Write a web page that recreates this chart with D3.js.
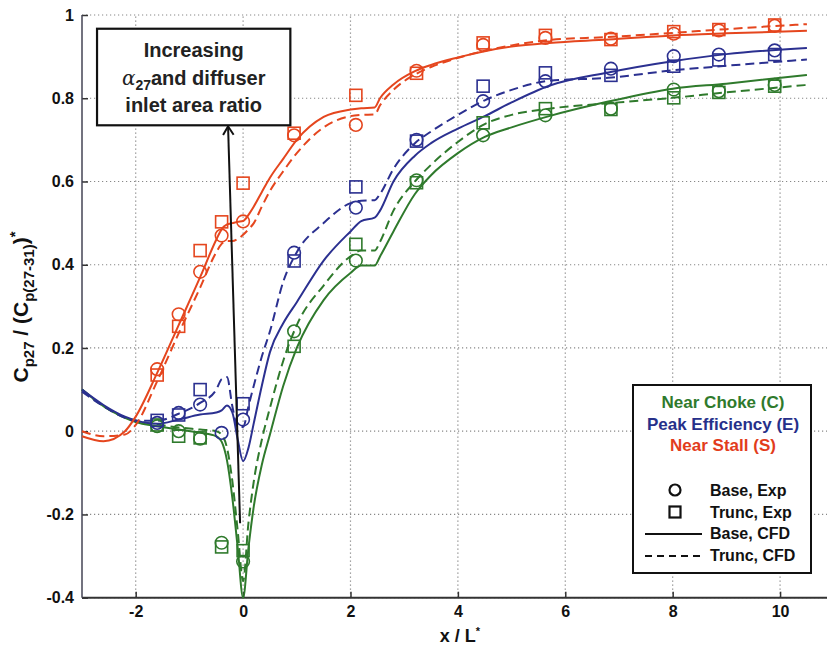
<!DOCTYPE html>
<html>
<head>
<meta charset="utf-8">
<script src="https://cdn.jsdelivr.net/npm/d3@7"></script>
<style>
body { margin: 0; background: #fff; }
text { font-family: "Liberation Sans", Arial, sans-serif; font-weight: bold; }
</style>
</head>
<body>
<svg id="chart" width="827" height="651"></svg>
<script>
// axis ticks
var xTicks = [-2, 0, 2, 4, 6, 8, 10];
var yTicks = [-0.4, -0.2, 0, 0.2, 0.4, 0.6, 0.8, 1];

// experimental stations (x / L*)
var expX = [-1.6, -1.2, -0.8, -0.4, 0, 0.95, 2.1, 3.23, 4.47, 5.63, 6.85, 8.02, 8.86, 9.9];
// Near Stall (S)
var stallBaseExp  = [0.149, 0.281, 0.383, 0.47, 0.504, 0.711, 0.736, 0.866, 0.928, 0.945, 0.943, 0.955, 0.963, 0.974];
var stallTruncExp = [0.135, 0.252, 0.434, 0.503, 0.596, 0.716, 0.807, 0.860, 0.933, 0.951, 0.941, 0.960, 0.965, 0.976];
// Peak Efficiency (E)
var peakBaseExp  = [0.02, 0.044, 0.064, -0.004, 0.028, 0.429, 0.537, 0.70, 0.793, 0.841, 0.871, 0.901, 0.905, 0.915];
var peakTruncExp = [0.026, 0.039, 0.10, null, 0.066, 0.409, 0.587, 0.697, 0.829, 0.861, 0.855, 0.877, 0.892, 0.905];
// Near Choke (C)
var chokeBaseExp  = [0.012, 0.0, -0.018, -0.268, -0.313, 0.240, 0.410, 0.603, 0.711, 0.759, 0.775, 0.821, 0.817, 0.832];
var chokeTruncExp = [0.015, -0.012, -0.016, -0.278, -0.287, 0.204, 0.449, 0.597, 0.741, 0.775, 0.773, 0.801, 0.814, 0.829];

// CFD curves sampled at these stations
var cfdX = [-3, -2.6, -2.2, -2, -1.6, -1.2, -0.8, -0.5, -0.4, -0.3, -0.2, -0.1, 0, 0.1, 0.2, 0.35, 0.5, 0.75, 1, 1.5, 2, 2.2, 2.45, 2.55, 2.8, 3.2, 3.5, 4, 4.5, 5, 5.7, 6.8, 8, 9, 10.5];
var stallBaseCfd  = [-0.012, -0.024, 0.0, 0.035, 0.14, 0.255, 0.37, 0.46, 0.485, 0.497, 0.50, 0.503, 0.505, 0.52, 0.54, 0.575, 0.609, 0.655, 0.70, 0.755, 0.773, 0.776, 0.778, 0.80, 0.833, 0.865, 0.88, 0.898, 0.913, 0.924, 0.933, 0.941, 0.951, 0.956, 0.962];
var stallTruncCfd = [0.0, -0.012, -0.008, 0.015, 0.12, 0.235, 0.345, 0.43, 0.45, 0.457, 0.457, 0.462, 0.472, 0.485, 0.50, 0.54, 0.577, 0.625, 0.668, 0.73, 0.757, 0.76, 0.761, 0.783, 0.82, 0.857, 0.875, 0.897, 0.914, 0.927, 0.94, 0.947, 0.957, 0.966, 0.978];
var peakBaseCfd   = [0.10, 0.063, 0.035, 0.026, 0.018, 0.028, 0.04, 0.045, 0.05, 0.062, 0.045, -0.02, -0.072, -0.04, 0.02, 0.11, 0.19, 0.26, 0.31, 0.41, 0.48, 0.505, 0.513, 0.53, 0.60, 0.662, 0.692, 0.727, 0.757, 0.79, 0.83, 0.862, 0.889, 0.906, 0.921];
var peakTruncCfd  = [0.095, 0.06, 0.032, 0.025, 0.025, 0.042, 0.068, 0.10, 0.125, 0.13, 0.06, 0.01, 0.01, 0.06, 0.11, 0.18, 0.24, 0.36, 0.43, 0.50, 0.548, 0.554, 0.555, 0.57, 0.63, 0.692, 0.72, 0.76, 0.795, 0.82, 0.842, 0.849, 0.867, 0.878, 0.893];
var chokeBaseCfd  = [0.10, 0.06, 0.032, 0.022, 0.012, 0.004, -0.004, -0.012, -0.025, -0.07, -0.16, -0.28, -0.40, -0.28, -0.18, -0.08, -0.008, 0.11, 0.20, 0.315, 0.38, 0.398, 0.398, 0.42, 0.48, 0.57, 0.615, 0.668, 0.707, 0.73, 0.757, 0.792, 0.823, 0.835, 0.856];
var chokeTruncCfd = [0.10, 0.06, 0.033, 0.025, 0.016, 0.009, 0.004, 0.0, -0.008, -0.04, -0.12, -0.24, -0.36, -0.22, -0.12, -0.02, 0.056, 0.17, 0.255, 0.35, 0.42, 0.434, 0.434, 0.455, 0.53, 0.60, 0.64, 0.695, 0.738, 0.76, 0.775, 0.788, 0.801, 0.814, 0.832];

var legendNames = ["Near Choke (C)", "Peak Efficiency (E)", "Near Stall (S)"];
var legendTypes = ["Base, Exp", "Trunc, Exp", "Base, CFD", "Trunc, CFD"];

var green = "#2f7a2c", blue = "#2b3090", red = "#e5461e";

var series = [
	{color: green, baseExp: chokeBaseExp, truncExp: chokeTruncExp, baseCfd: chokeBaseCfd, truncCfd: chokeTruncCfd},
	{color: blue, baseExp: peakBaseExp, truncExp: peakTruncExp, baseCfd: peakBaseCfd, truncCfd: peakTruncCfd},
	{color: red, baseExp: stallBaseExp, truncExp: stallTruncExp, baseCfd: stallBaseCfd, truncCfd: stallTruncCfd}
];

var svg = d3.select("#chart");
var x = d3.scaleLinear().domain([-3, 10.9]).range([82, 828.4]);
var y = d3.scaleLinear().domain([-0.4, 1]).range([597.7, 15]);

// dotted grid
var grid = svg.append("g").attr("class", "grid");
grid.selectAll(".vg").data(xTicks).enter().append("line")
	.attr("x1", function (d) { return x(d); })
	.attr("x2", function (d) { return x(d); })
	.attr("y1", y(-0.4)).attr("y2", y(1))
	.style("stroke", "#888").style("stroke-width", 1.2).style("stroke-dasharray", "1.2,2.8");
grid.selectAll(".hg").data(yTicks).enter().append("line")
	.attr("x1", x(-3)).attr("x2", 827)
	.attr("y1", function (d) { return y(d); })
	.attr("y2", function (d) { return y(d); })
	.style("stroke", "#888").style("stroke-width", 1.2).style("stroke-dasharray", "1.2,2.8");

// axes
var xAxis = svg.append("g")
	.attr("transform", "translate(0," + y(-0.4) + ")")
	.call(d3.axisBottom(x).tickValues(xTicks).tickSize(-6).tickPadding(8)
		.tickFormat(function (d) { return String(d); }));
var yAxis = svg.append("g")
	.attr("transform", "translate(" + x(-3) + ",0)")
	.call(d3.axisLeft(y).tickValues(yTicks).tickSize(-6).tickPadding(8)
		.tickFormat(function (d) { return String(d); }));
[xAxis, yAxis].forEach(function (a) {
	a.select(".domain").remove();
	a.selectAll(".tick line").style("stroke", "#333").style("stroke-width", 1.5);
	a.selectAll(".tick text").style("font-size", "16px").style("fill", "#111")
		.style("font-family", "'Liberation Sans', Arial, sans-serif").style("font-weight", "bold");
});
svg.append("line").attr("x1", x(-3)).attr("x2", 827).attr("y1", y(-0.4)).attr("y2", y(-0.4))
	.style("stroke", "#333").style("stroke-width", 2);
svg.append("line").attr("x1", x(-3)).attr("x2", x(-3)).attr("y1", y(1)).attr("y2", y(-0.4))
	.style("stroke", "#445").style("stroke-width", 1.5);

// axis titles
svg.append("text").attr("x", 460).attr("y", 642).attr("text-anchor", "middle")
	.style("font-size", "18px").style("fill", "#111")
	.text("x / L").append("tspan").attr("dy", -7).style("font-size", "11px").text("*");

var yt = svg.append("text").attr("transform", "translate(28,307) rotate(-90)")
	.attr("text-anchor", "middle").style("font-size", "21px").style("fill", "#111");
yt.append("tspan").text("C");
yt.append("tspan").attr("dy", 6).style("font-size", "15px").text("p27");
yt.append("tspan").attr("dy", -6).text(" / (C");
yt.append("tspan").attr("dy", 6).style("font-size", "15px").text("p(27-31)");
yt.append("tspan").attr("dy", -6).text(")");
yt.append("tspan").attr("dy", -8).style("font-size", "15px").text("*");

// CFD curves
var line = d3.line()
	.x(function (d) { return x(d[0]); })
	.y(function (d) { return y(d[1]); })
	.curve(d3.curveMonotoneX);

var plot = svg.append("g");
series.forEach(function (s) {
	plot.append("path").datum(d3.zip(cfdX, s.truncCfd)).attr("d", line)
		.style("fill", "none").style("stroke", s.color).style("stroke-width", 2)
		.style("stroke-dasharray", "9,5");
	plot.append("path").datum(d3.zip(cfdX, s.baseCfd)).attr("d", line)
		.style("fill", "none").style("stroke", s.color).style("stroke-width", 2);
});

// experimental markers
series.forEach(function (s) {
	var circ = d3.zip(expX, s.baseExp).filter(function (d) { return d[1] != null; });
	var sq = d3.zip(expX, s.truncExp).filter(function (d) { return d[1] != null; });
	plot.selectAll(null).data(sq).enter().append("rect")
		.attr("x", function (d) { return x(d[0]) - 6; })
		.attr("y", function (d) { return y(d[1]) - 6; })
		.attr("width", 12).attr("height", 12)
		.style("fill", "none").style("stroke", s.color).style("stroke-width", 1.6);
	plot.selectAll(null).data(circ).enter().append("circle")
		.attr("cx", function (d) { return x(d[0]); })
		.attr("cy", function (d) { return y(d[1]); })
		.attr("r", 6.3)
		.style("fill", "none").style("stroke", s.color).style("stroke-width", 1.6);
});

// annotation box and arrow
var box = {x0: -2.72, x1: 0.88, y0: 0.967, y1: 0.735};
var arrowFrom = [-0.056, -0.221], arrowTo = [-0.28, 0.735];
var ax1 = x(arrowFrom[0]), ay1 = y(arrowFrom[1]), ax2 = x(arrowTo[0]), ay2 = y(arrowTo[1]);
svg.append("line").attr("x1", ax1).attr("y1", ay1).attr("x2", ax2).attr("y2", ay2 + 1)
	.style("stroke", "#111").style("stroke-width", 2);
var ang = Math.atan2(ay2 - ay1, ax2 - ax1);
var hl = 11, hw = 0.5;
svg.append("path")
	.attr("d", "M" + (ax2 - hl * Math.cos(ang - hw)) + "," + (ay2 - hl * Math.sin(ang - hw)) +
		"L" + ax2 + "," + (ay2 + 1) +
		"L" + (ax2 - hl * Math.cos(ang + hw)) + "," + (ay2 - hl * Math.sin(ang + hw)))
	.style("fill", "none").style("stroke", "#111").style("stroke-width", 2);

var bx0 = x(box.x0), bx1 = x(box.x1), by0 = y(box.y0), by1 = y(box.y1);
svg.append("rect").attr("x", bx0).attr("y", by0).attr("width", bx1 - bx0).attr("height", by1 - by0)
	.style("fill", "#fff").style("stroke", "#111").style("stroke-width", 2.2);
var cx = (bx0 + bx1) / 2;
svg.append("text").attr("x", cx).attr("y", by0 + 28).attr("text-anchor", "middle")
	.style("font-size", "20px").style("fill", "#222").text("Increasing");
var t2 = svg.append("text").attr("x", cx).attr("y", by0 + 56).attr("text-anchor", "middle")
	.style("font-size", "20px").style("fill", "#222");
t2.append("tspan").style("font-family", "'DejaVu Serif', serif").style("font-style", "italic")
	.style("font-weight", "normal").text("α");
t2.append("tspan").attr("dy", 5).style("font-size", "14px").text("27");
t2.append("tspan").attr("dy", -5).text("and diffuser");
svg.append("text").attr("x", cx).attr("y", by0 + 83).attr("text-anchor", "middle")
	.style("font-size", "20px").style("fill", "#222").text("inlet area ratio");

// legend
var lg = svg.append("g").attr("transform", "translate(633,385)");
lg.append("rect").attr("width", 178).attr("height", 188)
	.style("fill", "#fff").style("stroke", "#111").style("stroke-width", 2);
var legendColors = [green, "#26308a", "#e23c1c"];
lg.selectAll(".ln").data(legendNames).enter().append("text")
	.attr("x", 90).attr("y", function (d, i) { return 23 + i * 21.5; })
	.attr("text-anchor", "middle").style("font-size", "17px")
	.style("fill", function (d, i) { return legendColors[i]; })
	.text(function (d) { return d; });
lg.selectAll(".lt").data(legendTypes).enter().append("text")
	.attr("x", 77).attr("y", function (d, i) { return 111 + i * 21.7; })
	.style("font-size", "16px").style("fill", "#111")
	.text(function (d) { return d; });
lg.append("circle").attr("cx", 42).attr("cy", 105).attr("r", 5.5)
	.style("fill", "none").style("stroke", "#111").style("stroke-width", 2.2);
lg.append("rect").attr("x", 36.5).attr("y", 121.5).attr("width", 11).attr("height", 11)
	.style("fill", "none").style("stroke", "#111").style("stroke-width", 2.2);
lg.append("line").attr("x1", 12).attr("x2", 69).attr("y1", 149).attr("y2", 149)
	.style("stroke", "#111").style("stroke-width", 2);
lg.append("line").attr("x1", 12).attr("x2", 69).attr("y1", 171).attr("y2", 171)
	.style("stroke", "#111").style("stroke-width", 2).style("stroke-dasharray", "7,5");
</script>
</body>
</html>
